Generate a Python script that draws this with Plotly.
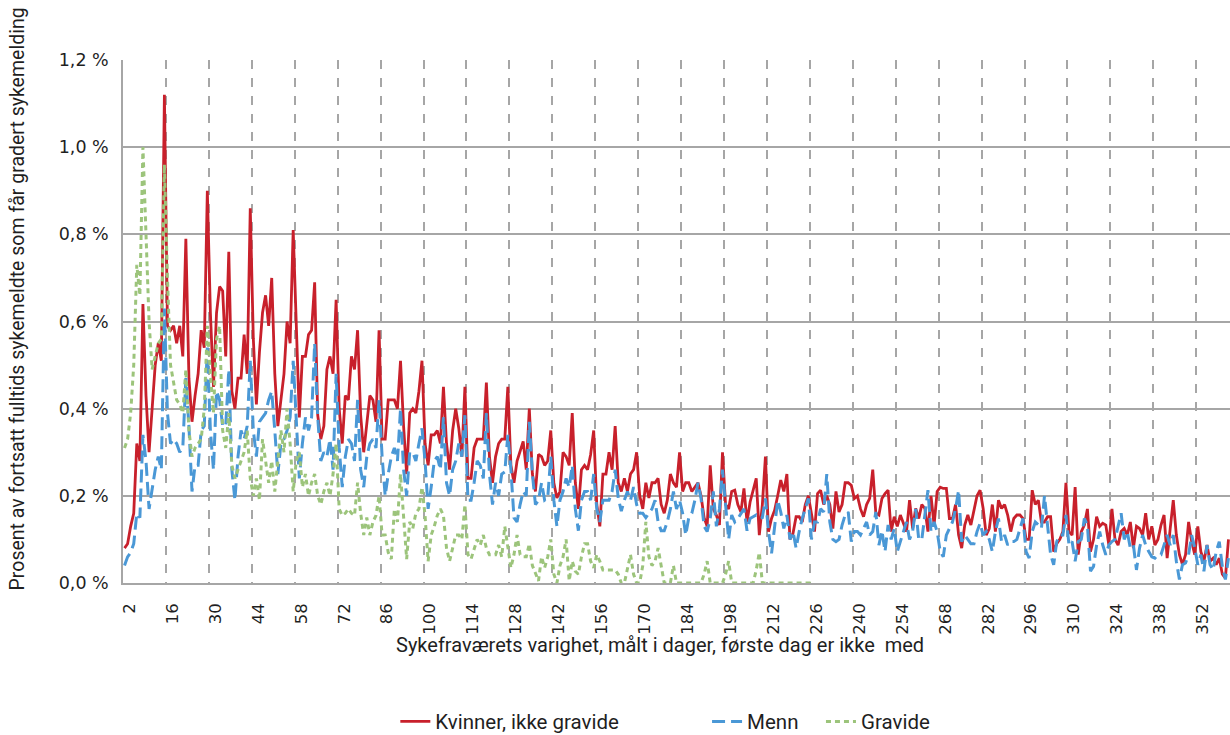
import plotly.graph_objects as go

# ---------------- data (days 2..362) ----------------
days = list(range(2, 363))

kvinner = [
    # days 2-63
    .08, .09, .13, .16, .32, .28, .64, .43, .30, .40, .50, .55, .51, 1.12, .59, .58, .59, .55, .59, .52,
    .79, .47, .37, .43, .48, .58, .54, .90, .62, .45, .62, .68, .67, .52, .76, .44, .40, .47, .47, .57,
    .48, .86, .56, .41, .53, .62, .66, .59, .70, .48, .36, .42, .48, .60, .55, .81, .58, .38, .52, .52,
    .57, .58,
    # days 64-125
    .69, .385, .33, .36, .49, .52, .48, .65, .40, .32, .43, .42, .52, .49, .58, .385, .30, .37, .43, .42,
    .37, .58, .33, .33, .42, .42, .42, .40, .51, .36, .25, .39, .40, .39, .44, .51, .32, .27, .34, .34,
    .35, .32, .45, .32, .26, .35, .40, .355, .29, .45, .24, .24, .31, .33, .33, .33, .46, .29, .23, .29,
    .32, .33,
    # days 126-189
    .33, .45, .27, .23, .28, .30, .325, .26, .40, .25, .21, .295, .29, .27, .28, .35, .23, .195, .21, .30,
    .29, .27, .39, .23, .17, .26, .27, .26, .295, .35, .18, .13, .25, .25, .30, .26, .36, .23, .21, .24,
    .21, .25, .26, .30, .20, .17, .23, .195, .23, .23, .24, .18, .16, .19, .25, .23, .22, .30, .21, .23,
    .23, .21, .22, .23,
    # days 190-249
    .20, .15, .13, .27, .17, .156, .133, .30, .18, .17, .21, .213, .18, .163, .217, .14, .186, .21, .24, .11,
    .18, .29, .118, .148, .167, .20, .236, .21, .25, .10, .114, .152, .152, .14, .18, .20, .163, .118, .205, .213,
    .18, .20, .18, .125, .21, .163, .18, .23, .23, .224, .194, .20, .17, .152, .18, .194, .26, .16, .156, .194,
    # days 250-306
    .205, .213, .118, .152, .13, .156, .137, .118, .19, .125, .171, .148, .18, .171, .118, .20, .133, .21, .22, .217,
    .217, .148, .148, .18, .11, .08, .133, .156, .133, .163, .20, .213, .171, .11, .125, .18, .118, .19, .171, .18,
    .156, .118, .148, .156, .156, .148, .10, .10, .213, .18, .19, .14, .14, .152, .152, .072, .09,
    # days 307-362
    .10, .118, .23, .118, .11, .22, .065, .118, .133, .17, .072, .10, .152, .13, .137, .133, .087, .17, .10, .087,
    .118, .125, .11, .14, .08, .13, .125, .11, .16, .10, .13, .087, .10, .133, .156, .057, .125, .19, .11, .065,
    .042, .065, .14, .095, .065, .13, .072, .05, .087, .05, .057, .042, .057, .02, .011, .10,
]

menn = [
    # days 2-63
    .04, .06, .07, .09, .16, .15, .34, .28, .17, .22, .26, .29, .26, .63, .39, .32, .33, .32, .30, .31,
    .47, .36, .21, .27, .27, .35, .36, .54, .35, .26, .44, .42, .36, .36, .49, .26, .19, .29, .35, .33,
    .36, .51, .35, .29, .37, .38, .39, .42, .44, .35, .25, .32, .33, .35, .38, .51, .38, .24, .32, .38,
    .35, .38,
    # days 64-125
    .55, .38, .28, .30, .29, .33, .26, .48, .31, .22, .29, .33, .32, .28, .42, .26, .22, .29, .32, .33,
    .31, .42, .29, .20, .25, .29, .31, .28, .40, .26, .20, .30, .30, .28, .32, .355, .28, .17, .22, .28,
    .29, .26, .38, .23, .20, .26, .28, .32, .29, .385, .19, .19, .23, .28, .27, .24, .39, .25, .18, .23,
    .20, .25,
    # days 126-189
    .255, .34, .26, .15, .14, .18, .21, .20, .37, .25, .18, .19, .23, .19, .195, .29, .19, .13, .19, .21,
    .24, .22, .27, .17, .12, .19, .21, .21, .19, .25, .17, .14, .19, .19, .19, .21, .26, .195, .165, .19,
    .21, .19, .22, .18, .16, .16, .15, .16, .17, .19, .14, .12, .12, .14, .17, .21, .17, .19, .16, .11,
    .15, .16, .19, .23,
    # days 190-249
    .194, .13, .118, .148, .21, .13, .17, .26, .186, .10, .156, .14, .148, .16, .17, .12, .148, .152, .156, .148,
    .15, .194, .118, .068, .133, .19, .163, .125, .156, .10, .118, .08, .118, .148, .17, .194, .10, .14, .14, .17,
    .163, .25, .14, .10, .095, .10, .133, .156, .163, .095, .118, .118, .11, .125, .14, .11, .118, .163, .087, .12,
    # days 250-306
    .072, .133, .10, .125, .072, .095, .118, .14, .10, .118, .17, .10, .10, .163, .213, .118, .14, .118, .072, .06,
    .11, .125, .14, .17, .213, .095, .11, .10, .09, .09, .118, .137, .11, .118, .10, .072, .118, .148, .095, .11,
    .087, .095, .095, .10, .125, .148, .072, .057, .118, .14, .133, .125, .20, .133, .065, .042, .095,
    # days 307-362
    .11, .11, .156, .087, .095, .05, .095, .10, .148, .133, .027, .038, .087, .118, .087, .065, .087, .095, .10, .13,
    .16, .10, .118, .08, .087, .03, .08, .11, .087, .072, .06, .057, .065, .065, .087, .11, .087, .11, .05, .008,
    .042, .046, .065, .11, .08, .042, .065, .027, .087, .042, .03, .072, .095, .038, .008, .057,
]

# Gravide: days 2..226 (series ends there)
gravide = [
    # days 2-63
    .31, .33, .39, .50, .73, .66, 1.00, .80, .60, .49, .52, .55, .56, .96, .70, .50, .46, .42, .41, .39,
    .49, .35, .29, .31, .32, .33, .40, .59, .48, .39, .56, .59, .35, .31, .39, .27, .24, .26, .28, .30,
    .35, .24, .20, .24, .19, .33, .28, .23, .28, .21, .28, .35, .30, .40, .32, .21, .28, .30, .22, .25,
    .20, .23,
    # days 64-125
    .25, .20, .18, .21, .23, .20, .25, .32, .17, .155, .16, .17, .16, .155, .23, .16, .11, .15, .11, .14,
    .155, .20, .11, .11, .07, .055, .17, .14, .25, .155, .055, .14, .125, .16, .17, .22, .155, .05, .11, .13,
    .155, .17, .155, .08, .05, .08, .11, .11, .10, .18, .065, .055, .08, .10, .087, .11, .08, .065, .065, .065,
    .087, .06,
    # days 126-189
    .13, .08, .035, .065, .11, .065, .06, .06, .09, .04, .02, .005, .06, .035, .06, .10, .02, 0, .04, .06,
    .10, .005, .05, .027, .02, .06, .09, .09, .05, .035, .065, .05, .03, .03, .03, .03, .03, .02, 0, 0,
    .035, .065, .02, 0, 0, .04, .14, .06, .04, .05, .08, .035, 0, 0, 0, .04, 0, 0, 0, 0,
    0, 0, 0, 0,
    # days 190-226
    0, .02, .05, 0, 0, 0, 0, 0, .02, .05, 0, 0, 0, 0, 0, 0, 0, 0, .03, .07,
    0, 0, 0, 0, 0, 0, 0, 0, 0, 0, 0, 0, 0, 0, 0, 0, 0,
]

assert len(kvinner) == len(days), len(kvinner)
assert len(menn) == len(days), len(menn)
assert len(gravide) == 225, len(gravide)

series_names = ["Kvinner, ikke gravide", "Menn", "Gravide"]
x_tick_vals = list(range(2, 353, 14))
x_tick_text = [str(v) for v in x_tick_vals]
y_tick_vals = [0, 0.2, 0.4, 0.6, 0.8, 1.0, 1.2]
y_tick_text = ["0,0 %", "0,2 %", "0,4 %", "0,6 %", "0,8 %", "1,0 %", "1,2 %"]
x_title = "Sykefraværets varighet, målt i dager, første dag er ikke  med"
y_title = "Prosent av fortsatt fulltids sykemeldte som får gradert sykemelding"

RED = "#C8202B"
BLUE = "#4A98D6"
GREEN = "#9CC47B"
GRID = "#A6A6A6"
TXT = "#1F1F1F"

fig = go.Figure()
fig.add_trace(go.Scatter(x=days, y=kvinner, mode="lines", name=series_names[0],
                         line=dict(color=RED, width=2.8), legend="legend"))
fig.add_trace(go.Scatter(x=days, y=menn, mode="lines", name=series_names[1],
                         line=dict(color=BLUE, width=3, dash="13px,6px"), legend="legend2"))
fig.add_trace(go.Scatter(x=days[:len(gravide)], y=gravide, mode="lines", name=series_names[2],
                         line=dict(color=GREEN, width=3, dash="5px,4px"), legend="legend3"))

leg_common = dict(orientation="h", yanchor="middle", y=-0.265, xanchor="left",
                  font=dict(family="Roboto", size=20.5, color=TXT), bgcolor="rgba(0,0,0,0)")

fig.update_layout(
    width=1230, height=735,
    margin=dict(l=123, r=0, t=60, b=152, autoexpand=False),
    plot_bgcolor="white", paper_bgcolor="white",
    showlegend=True,
    legend=dict(x=0.246, **leg_common),
    legend2=dict(x=0.5276, **leg_common),
    legend3=dict(x=0.6305, **leg_common),
    xaxis=dict(
        range=[1.5, 362.5], tickmode="array", tickvals=x_tick_vals, ticktext=x_tick_text,
        tickangle=-90, tickfont=dict(family="DejaVu Sans", size=16.5, color=TXT),
        showgrid=False, zeroline=False, showline=True, linecolor=GRID, linewidth=1.5,
        ticks="outside", ticklen=12, tickcolor="rgba(0,0,0,0)", ticklabelshift=5,
        automargin=False,
        minor=dict(tickvals=[v - 0.5 for v in x_tick_vals[1:]], showgrid=True,
                   gridcolor=GRID, gridwidth=1.5, griddash="dash", ticks=""),
    ),
    yaxis=dict(
        range=[0, 1.2], tickmode="array", tickvals=y_tick_vals, ticktext=y_tick_text,
        tickfont=dict(family="DejaVu Sans", size=17.5, color=TXT),
        showgrid=True, gridcolor=GRID, gridwidth=1.5, zeroline=False,
        showline=True, linecolor=GRID, linewidth=1.5, ticks="", ticklabelstandoff=9,
        automargin=False,
    ),
    annotations=[
        dict(text=x_title, xref="paper", yref="paper", x=0.485, y=-0.1187,
             xanchor="center", yanchor="middle", showarrow=False,
             font=dict(family="Roboto", size=20, color=TXT)),
        dict(text=y_title, xref="paper", yref="paper", x=-0.0949, y=0.544,
             xanchor="center", yanchor="middle", textangle=-90, showarrow=False,
             font=dict(family="Roboto", size=19.5, color=TXT)),
    ],
)

fig.write_html("out.html")
